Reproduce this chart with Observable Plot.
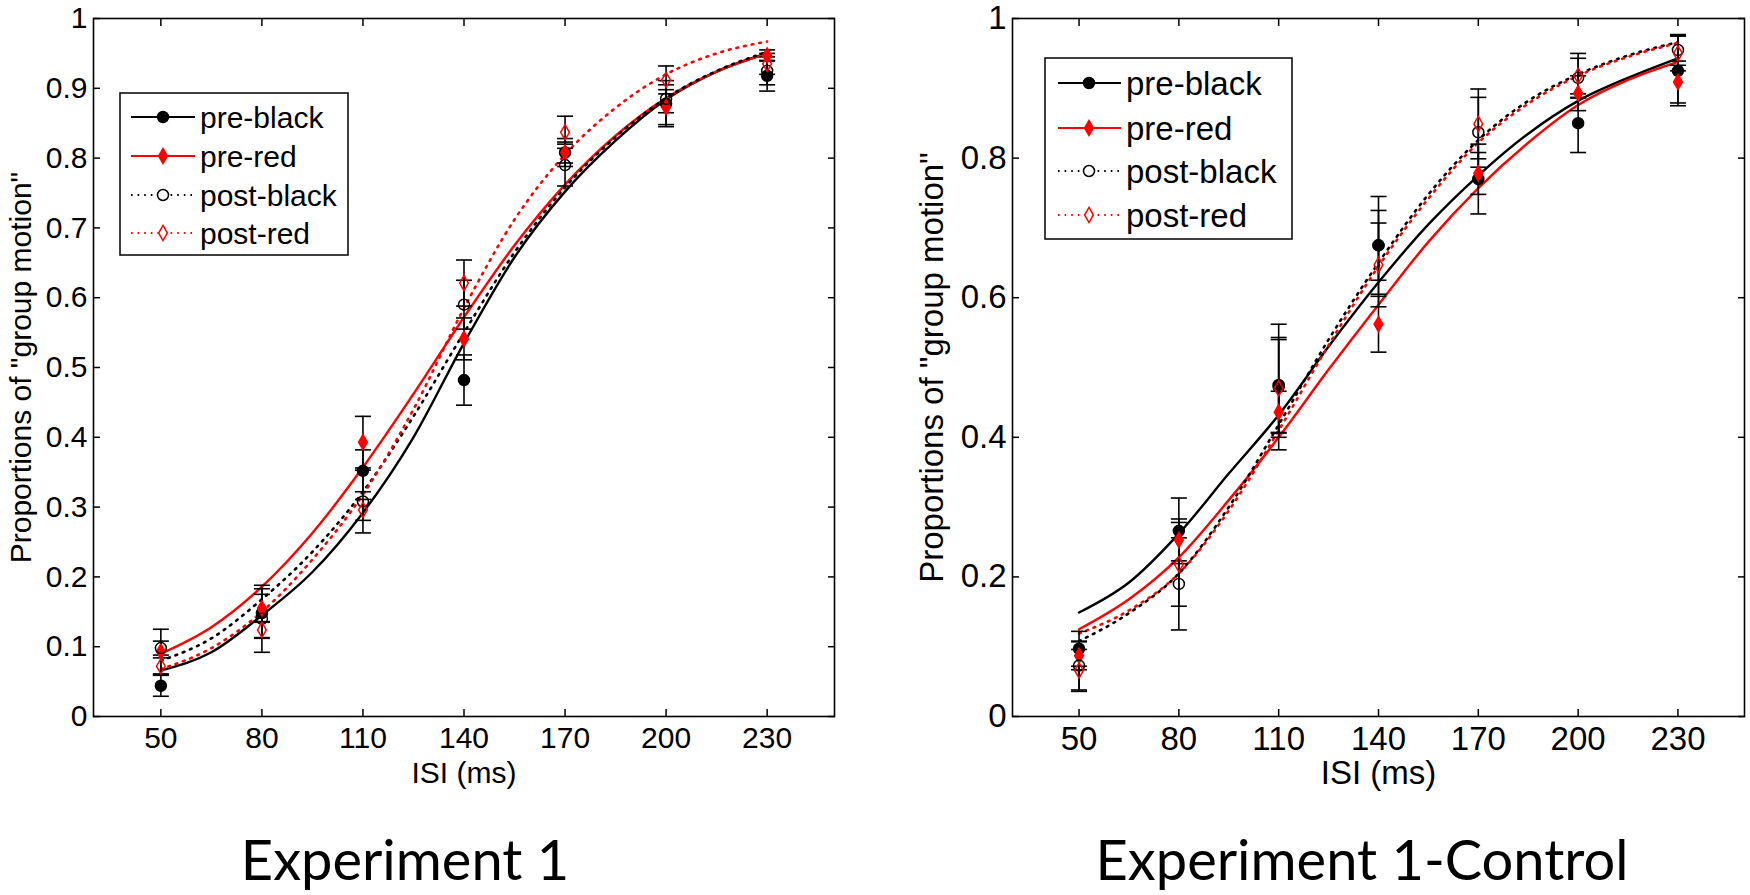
<!DOCTYPE html>
<html><head><meta charset="utf-8">
<script src="https://cdn.jsdelivr.net/npm/d3@7"></script>
<script src="https://cdn.jsdelivr.net/npm/@observablehq/plot@0.6"></script>
<style>
body{margin:0;background:#fff;}
#wrap{position:relative;width:1750px;height:895px;overflow:hidden;background:#fff;font-family:"Liberation Sans",Arial,sans-serif;}
.panel{position:absolute;top:0;}
.title{position:absolute;font-family:Lato,"Open Sans",sans-serif;font-size:56px;white-space:nowrap;line-height:1.2;color:#000;transform:translateX(-50%);}
.legend{position:absolute;}
</style></head><body><div id="wrap"></div>
<script>
// ---------- data ----------
const isi = [50, 80, 110, 140, 170, 200, 230];
const fitIsi = [50, 65, 80, 95, 110, 125, 140, 155, 170, 185, 200, 215, 230];
const seriesNames = ["pre-black", "pre-red", "post-black", "post-red"];
const xTicks = [50, 80, 110, 140, 170, 200, 230];
const yTicksExp1 = [0, 0.1, 0.2, 0.3, 0.4, 0.5, 0.6, 0.7, 0.8, 0.9, 1];
const yTicksCtrl = [0, 0.2, 0.4, 0.6, 0.8, 1];
const titles = ["Experiment 1", "Experiment 1-Control"];
const xLabel = "ISI (ms)";
const yLabel = "Proportions of \"group motion\"";

// Experiment 1 observed proportions
const exp1PreBlack  = [0.044, 0.148, 0.352, 0.482, 0.808, 0.878, 0.918];
const exp1PreRed    = [0.093, 0.155, 0.393, 0.541, 0.808, 0.873, 0.947];
const exp1PostBlack = [0.098, 0.140, 0.308, 0.590, 0.790, 0.885, 0.925];
const exp1PostRed   = [0.072, 0.124, 0.296, 0.621, 0.837, 0.912, 0.935];
// Experiment 1 error bars (half length)
const exp1PreBlackErr  = [0.015, 0.035, 0.030, 0.036, 0.015, 0.033, 0.022];
const exp1PreRedErr    = [0.032, 0.020, 0.037, 0.030, 0.020, 0.025, 0.008];
const exp1PostBlackErr = [0.010, 0.048, 0.045, 0.035, 0.030, 0.020, 0.020];
const exp1PostRedErr   = [0.012, 0.012, 0.015, 0.033, 0.023, 0.020, 0.015];
// Experiment 1 fitted curves (read at fitIsi)
const exp1PreBlackFit  = [0.066, 0.092, 0.145, 0.207, 0.292, 0.400, 0.535, 0.658, 0.752, 0.825, 0.884, 0.924, 0.950];
const exp1PreRedFit    = [0.090, 0.128, 0.186, 0.263, 0.357, 0.462, 0.572, 0.675, 0.762, 0.832, 0.886, 0.924, 0.950];
const exp1PostBlackFit = [0.080, 0.112, 0.168, 0.236, 0.322, 0.430, 0.550, 0.665, 0.758, 0.830, 0.886, 0.925, 0.952];
const exp1PostRedFit   = [0.068, 0.098, 0.150, 0.225, 0.318, 0.440, 0.585, 0.712, 0.805, 0.872, 0.920, 0.950, 0.967];

// Experiment 1-Control observed proportions
const ctrlPreBlack  = [0.097, 0.266, 0.475, 0.675, 0.770, 0.850, 0.925];
const ctrlPreRed    = [0.087, 0.253, 0.436, 0.562, 0.778, 0.893, 0.909];
const ctrlPostBlack = [0.073, 0.190, 0.472, 0.675, 0.837, 0.915, 0.955];
const ctrlPostRed   = [0.066, 0.218, 0.470, 0.647, 0.849, 0.918, 0.950];
const ctrlPreBlackErr  = [0.025, 0.047, 0.068, 0.070, 0.050, 0.042, 0.050];
const ctrlPreRedErr    = [0.020, 0.030, 0.030, 0.040, 0.030, 0.025, 0.030];
const ctrlPostBlackErr = [0.035, 0.066, 0.090, 0.050, 0.050, 0.028, 0.022];
const ctrlPostRedErr   = [0.030, 0.060, 0.070, 0.060, 0.050, 0.032, 0.025];
const ctrlPreBlackFit  = [0.149, 0.192, 0.262, 0.348, 0.432, 0.530, 0.622, 0.705, 0.775, 0.835, 0.882, 0.915, 0.943];
const ctrlPreRedFit    = [0.125, 0.168, 0.228, 0.310, 0.400, 0.497, 0.590, 0.680, 0.757, 0.822, 0.876, 0.912, 0.938];
const ctrlPostBlackFit = [0.108, 0.148, 0.205, 0.300, 0.418, 0.540, 0.650, 0.748, 0.826, 0.882, 0.920, 0.947, 0.966];
const ctrlPostRedFit   = [0.119, 0.152, 0.205, 0.295, 0.410, 0.532, 0.645, 0.742, 0.822, 0.878, 0.918, 0.945, 0.965];

// ---------- styles ----------
const colors = ["#000000", "#ff0000", "#000000", "#ff0000"];
const dotted = [false, false, true, true];
const filled = [true, true, false, false];
const symbols = ["circle", "diamond", "circle", "diamond"];
const symbolR = [5.5, 4.6, 5.5, 4.6];
const capSymbol = {draw(ctx, size) { const r = Math.sqrt(size / Math.PI); ctx.moveTo(-r, 0); ctx.lineTo(r, 0); }};
const FONT = "'Liberation Sans', Arial, sans-serif";

function makePanel(cfg) {
  const rows = [];
  seriesNames.forEach((s, i) => isi.forEach((x, j) => rows.push({s, i, x, y: cfg.values[i][j], e: cfg.errs[i][j]})));
  const fits = [];
  seriesNames.forEach((s, i) => fitIsi.forEach((x, j) => fits.push({s, i, x, y: cfg.fits[i][j]})));
  const marks = [];
  // fitted curves
  seriesNames.forEach((s, i) => {
    marks.push(Plot.line(fits.filter(d => d.i === i), {
      x: "x", y: "y", stroke: colors[i], strokeWidth: dotted[i] ? 2.6 : 2.4,
      strokeDasharray: dotted[i] ? "1.8,6" : null, curve: "monotone-x"
    }));
  });
  // error bars
  marks.push(Plot.ruleX(rows, {x: "x", y1: d => d.y - d.e, y2: d => d.y + d.e, stroke: "black", strokeWidth: 1.6}));
  marks.push(Plot.dot(rows, {x: "x", y: d => d.y - d.e, symbol: capSymbol, r: 8, stroke: "black", fill: "none", strokeWidth: 1.6}));
  marks.push(Plot.dot(rows, {x: "x", y: d => d.y + d.e, symbol: capSymbol, r: 8, stroke: "black", fill: "none", strokeWidth: 1.6}));
  // markers
  seriesNames.forEach((s, i) => {
    marks.push(Plot.dot(rows.filter(d => d.i === i), {
      x: "x", y: "y", symbol: symbols[i], r: symbolR[i],
      fill: filled[i] ? colors[i] : "none", stroke: colors[i], strokeWidth: 1.5
    }));
  });
  // axes
  marks.push(Plot.axisX({ticks: xTicks, tickSize: 0, tickPadding: 10, fontSize: cfg.tickFont, label: null, tickFormat: d => String(d)}));
  marks.push(Plot.axisX({ticks: xTicks, tickSize: -7, tickFormat: () => "", label: null, strokeWidth: 1.5}));
  marks.push(Plot.axisX({ticks: xTicks, anchor: "top", tickSize: -7, tickFormat: () => "", label: null, strokeWidth: 1.5}));
  marks.push(Plot.axisY({ticks: cfg.yTicks, tickSize: 0, tickPadding: 6, fontSize: cfg.tickFont, label: null, tickFormat: d => String(d)}));
  marks.push(Plot.axisY({ticks: cfg.yTicks, tickSize: -7, tickFormat: () => "", label: null, strokeWidth: 1.5}));
  marks.push(Plot.axisY({ticks: cfg.yTicks, anchor: "right", tickSize: -7, tickFormat: () => "", label: null, strokeWidth: 1.5}));
  marks.push(Plot.frame({stroke: "black", strokeWidth: 1.6}));
  marks.push(Plot.text([xLabel], {text: d => d, frameAnchor: "bottom", dy: cfg.xLabelDy, fontSize: cfg.labelFont, textAnchor: "middle", lineAnchor: "middle"}));
  marks.push(Plot.text([yLabel], {text: d => d, frameAnchor: "left", dx: cfg.yLabelDx, rotate: -90, fontSize: cfg.labelFont, textAnchor: "middle", lineAnchor: "middle"}));

  const svg = Plot.plot({
    width: cfg.width, height: 800,
    marginLeft: cfg.ml, marginRight: cfg.mr, marginTop: 18, marginBottom: 84,
    x: {domain: [30, 250], axis: null},
    y: {domain: [0, 1], axis: null},
    style: {fontFamily: FONT, background: "transparent", color: "black", overflow: "visible"},
    marks
  });
  svg.classList.add("panel");
  svg.style.left = cfg.left + "px";
  return svg;
}

function makeLegend(cfg) {
  const svg = d3.create("svg").attr("class", "legend")
    .attr("width", cfg.w + 4).attr("height", cfg.h + 4)
    .style("left", (cfg.x - 2) + "px").style("top", (cfg.y - 2) + "px");
  svg.append("rect").attr("x", 2).attr("y", 2).attr("width", cfg.w).attr("height", cfg.h)
    .attr("fill", "white").attr("stroke", "black").attr("stroke-width", 1.5);
  seriesNames.forEach((s, i) => {
    const cy = 2 + cfg.rowY[i];
    svg.append("line").attr("x1", 2 + cfg.lineX1).attr("x2", 2 + cfg.lineX2).attr("y1", cy).attr("y2", cy)
      .attr("stroke", colors[i]).attr("stroke-width", 2)
      .attr("stroke-dasharray", dotted[i] ? "1.6,5" : null);
    const sym = symbols[i] === "circle" ? d3.symbolCircle : d3.symbolDiamond;
    svg.append("path").attr("d", d3.symbol(sym, symbolR[i] * symbolR[i] * Math.PI)())
      .attr("transform", `translate(${2 + cfg.markX},${cy})`)
      .attr("fill", filled[i] ? colors[i] : "white").attr("stroke", colors[i]).attr("stroke-width", 1.5);
    svg.append("text").attr("x", 2 + cfg.textX).attr("y", cy).attr("dy", "0.35em")
      .attr("font-family", FONT).attr("font-size", cfg.font).text(s);
  });
  return svg.node();
}

const wrap = document.getElementById("wrap");
wrap.appendChild(makePanel({
  left: 0, width: 875, ml: 93, mr: 41,
  values: [exp1PreBlack, exp1PreRed, exp1PostBlack, exp1PostRed],
  errs: [exp1PreBlackErr, exp1PreRedErr, exp1PostBlackErr, exp1PostRedErr],
  fits: [exp1PreBlackFit, exp1PreRedFit, exp1PostBlackFit, exp1PostRedFit],
  yTicks: yTicksExp1, tickFont: 30, labelFont: 30, xLabelDy: 57, yLabelDx: -72
}));
wrap.appendChild(makePanel({
  left: 875, width: 875, ml: 137, mr: 6,
  values: [ctrlPreBlack, ctrlPreRed, ctrlPostBlack, ctrlPostRed],
  errs: [ctrlPreBlackErr, ctrlPreRedErr, ctrlPostBlackErr, ctrlPostRedErr],
  fits: [ctrlPreBlackFit, ctrlPreRedFit, ctrlPostBlackFit, ctrlPostRedFit],
  yTicks: yTicksCtrl, tickFont: 33, labelFont: 33, xLabelDy: 57, yLabelDx: -80
}));
wrap.appendChild(makeLegend({x: 120, y: 93, w: 228, h: 162, rowY: [24, 63, 102, 140], lineX1: 11, lineX2: 75, markX: 43, textX: 80, font: 30}));
wrap.appendChild(makeLegend({x: 1045, y: 58, w: 247, h: 181, rowY: [25, 70, 113, 157], lineX1: 13, lineX2: 76, markX: 44, textX: 81, font: 33}));

titles.forEach((t, i) => {
  const div = document.createElement("div");
  div.className = "title";
  div.textContent = t;
  div.style.left = (i === 0 ? 405 : 1362) + "px";
  div.style.top = "825px";
  wrap.appendChild(div);
});
</script></body></html>
